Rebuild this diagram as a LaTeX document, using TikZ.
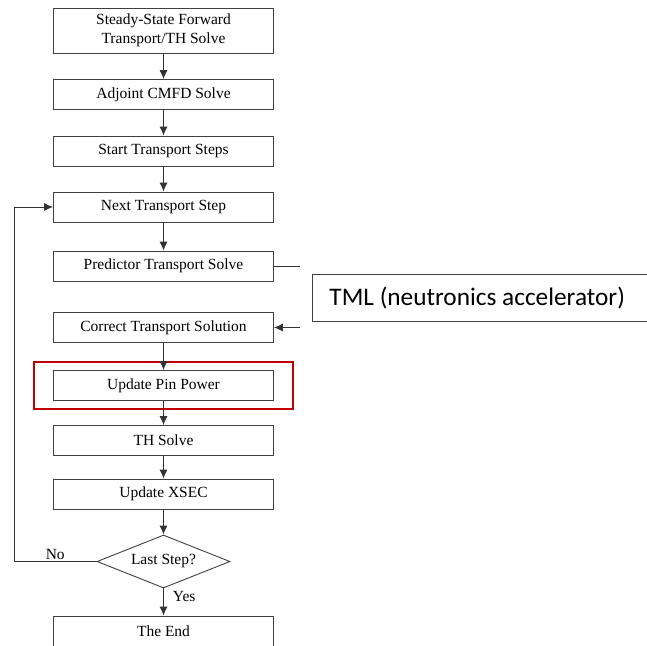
\documentclass[tikz,border=0pt]{standalone}
\usepackage{fontspec}
\setmainfont{Liberation Serif}
\newfontfamily\calfont{Carlito}
\usetikzlibrary{shapes.geometric,arrows.meta,fit}
\definecolor{hlred}{RGB}{192,0,0}
\tikzset{
	blk/.style = {draw = black!75, line width = 0.9pt, minimum width = 220pt, minimum height = 30pt, inner sep = 0pt, font = \fontsize{15.5}{19}\selectfont},
	dec/.style = {blk, shape = diamond, minimum width = 133pt, minimum height = 53pt, aspect = 2.5},
	arr/.style = {-{Latex[length = 9pt, width = 8pt]}, draw = black!80, line width = 0.9pt},
	lbl/.style = {font = \fontsize{15.5}{19}\selectfont, inner sep = 1pt}
}
\begin{document}
\begin{tikzpicture}[x = 1pt, y = -1pt]
	\useasboundingbox (0,0) rectangle (647,645);
	\node [blk, minimum height = 45pt, align = center] (ss) at (163.5,30.5) {Steady-State Forward\\Transport/TH Solve};
	\node [blk] (adj) at (163.5,94.5) {Adjoint CMFD Solve};
	\node [blk] (start) at (163.5,151) {Start Transport Steps};
	\node [blk] (next) at (163.5,207) {Next Transport Step};
	\node [blk] (pred) at (163.5,266) {Predictor Transport Solve};
	\node [blk] (cor) at (163.5,327.5) {Correct Transport Solution};
	\node [blk] (pin) at (163.5,385.5) {Update Pin Power};
	\node [blk] (th) at (163.5,440.5) {TH Solve};
	\node [blk] (xs) at (163.5,494) {Update XSEC};
	\node [dec] (last) at (163.5,561.5) {Last Step?};
	\node [blk] (end) at (163.5,631) {The End};
	% highlight round the pin power step
	\node [draw = hlred, line width = 2pt, fit = (pin), inner xsep = 19pt, inner ysep = 8.5pt] (hl) {};
	% accelerator box, cut by the right edge
	\node [draw = black!75, line width = 0.9pt, anchor = west, minimum height = 47pt, inner xsep = 17pt, font = \calfont\fontsize{25.3}{29}\selectfont] (tml) at (312,297.5) {TML (neutronics accelerator)\hspace*{30pt}};
	\foreach \a/\b in {ss/adj,adj/start,start/next,next/pred,cor/pin,pin/th,th/xs,xs/last}{
	\draw [arr] (\a) -- (\b);
	}
	\coordinate (tmlin) at (300,266);
	\coordinate (tmlout) at (300,327.5);
	\coordinate (back) at (14,561.5);
	\draw [draw = black!80, line width = 0.9pt] (pred.east) -- (tmlin);
	\draw [arr] (tmlout) -- (cor.east);
	\draw [arr] (last.west) -- node [lbl, midway, above] {No} (back) |- (next.west);
	\draw [arr] (last.south) -- node [lbl, pos = 0.3, right = 8pt] {Yes} (end.north);
\end{tikzpicture}
\end{document}
